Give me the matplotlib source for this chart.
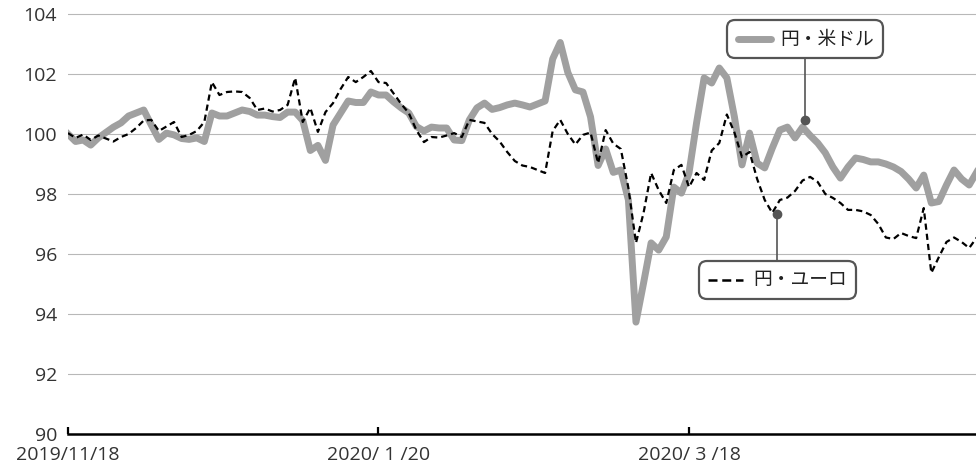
import matplotlib
matplotlib.use("Agg")
import matplotlib.pyplot as plt
from matplotlib.patches import FancyBboxPatch
from matplotlib.lines import Line2D
from matplotlib.transforms import IdentityTransform

plt.rcParams['font.family'] = ['Noto Sans CJK JP', 'DejaVu Sans']

# index values, 2019/11/18 = 100 (one point per business day)
usd = [100.0, 99.75, 99.8, 99.63, 99.87, 100.05, 100.23, 100.37, 100.6, 100.7,
       100.8, 100.3, 99.82, 100.03, 99.97, 99.85, 99.82, 99.87, 99.75, 100.7,
       100.6, 100.6, 100.7, 100.8, 100.75, 100.63, 100.63, 100.58, 100.55, 100.73,
       100.73, 100.45, 99.45, 99.62, 99.12, 100.3, 100.7, 101.1, 101.05, 101.05,
       101.4, 101.3, 101.3, 101.07, 100.87, 100.7, 100.25, 100.1, 100.23, 100.2,
       100.2, 99.8, 99.78, 100.47, 100.87, 101.03, 100.82, 100.88, 100.97, 101.03,
       100.97, 100.9, 101.0, 101.1, 102.5, 103.05, 102.05, 101.47, 101.4, 100.57,
       98.95, 99.5, 98.72, 98.8, 97.8, 93.73, 95.03, 96.37, 96.13, 96.57,
       98.23, 98.03, 98.7, 100.37, 101.87, 101.7, 102.2, 101.87, 100.57, 98.97,
       100.03, 99.03, 98.87, 99.53, 100.13, 100.23, 99.87, 100.23, 99.95, 99.7,
       99.37, 98.9, 98.53, 98.9, 99.2, 99.15, 99.07, 99.07, 99.0, 98.9,
       98.75, 98.5, 98.2, 98.63, 97.7, 97.75, 98.3, 98.8, 98.5, 98.3,
       98.73]

eur = [100.03, 99.87, 99.98, 99.8, 99.95, 99.85, 99.75, 99.9, 100.0, 100.2,
       100.45, 100.47, 100.1, 100.25, 100.4, 99.9, 99.97, 100.1, 100.4, 101.73,
       101.3, 101.4, 101.42, 101.4, 101.2, 100.8, 100.85, 100.75, 100.8, 100.97,
       101.87, 100.4, 100.87, 100.07, 100.73, 101.03, 101.5, 101.9, 101.73, 101.9,
       102.1, 101.73, 101.7, 101.35, 101.0, 100.7, 100.13, 99.73, 99.9, 99.88,
       99.95, 100.03, 99.9, 100.47, 100.42, 100.37, 100.0, 99.75, 99.4, 99.1,
       98.95, 98.9, 98.8, 98.7, 100.1, 100.47, 100.0, 99.65, 99.97, 100.05,
       99.03, 100.13, 99.68, 99.5, 98.2, 96.37, 97.37, 98.7, 98.13, 97.7,
       98.8, 98.97, 98.23, 98.7, 98.47, 99.45, 99.7, 100.65, 100.05, 99.23,
       99.4, 98.5, 97.8, 97.37, 97.8, 97.88, 98.1, 98.45, 98.57, 98.4,
       98.0, 97.87, 97.7, 97.47, 97.47, 97.42, 97.3, 97.0, 96.55, 96.5,
       96.7, 96.6, 96.53, 97.53, 95.37, 95.9, 96.4, 96.55, 96.4, 96.2,
       96.55]

tick_pos = [0, 41, 82]
tick_labels = ['2019/11/18', '2020/ 1 /20', '2020/ 3 /18']
y_ticks = [90, 92, 94, 96, 98, 100, 102, 104]

W, H = 976, 470
fig = plt.figure(figsize=(W / 100, H / 100), dpi=100)
ax = fig.add_axes([68 / W, 36 / H, 908 / W, 423 / H])

x = list(range(len(usd)))
ax.plot(x, usd, color='#a0a0a0', lw=5, zorder=3)
ax.plot(x, eur, color='black', lw=1.6, linestyle=(0, (2.8, 1.8)), zorder=4)

ax.set_xlim(0, 119.9)
ax.set_ylim(90, 104.1)
ax.set_yticks(y_ticks)
ax.set_xticks(tick_pos)
ax.set_xticklabels(tick_labels)
ax.yaxis.grid(True, color='#b8b8b8', lw=0.8)
ax.set_axisbelow(True)
for s in ['top', 'right', 'left']:
    ax.spines[s].set_visible(False)
ax.spines['bottom'].set_linewidth(1.8)
ax.spines['bottom'].set_color('black')
ax.tick_params(axis='y', length=0, pad=8, labelcolor='#333333')
ax.tick_params(axis='x', direction='in', length=5, width=1.6, pad=9,
               labelcolor='#333333')
for lab in ax.get_xticklabels() + ax.get_yticklabels():
    lab.set_fontfamily(['Open Sans', 'DejaVu Sans'])
    lab.set_fontsize(14)


# callout boxes, drawn in pixel space (top-left origin)
def P(px, py):
    return px, H - py


def add_box(x0, y0, x1, y1):
    bx, by = P(x0, y1)
    box = FancyBboxPatch((bx, by), x1 - x0, y1 - y0,
                         boxstyle='round,pad=0,rounding_size=8',
                         transform=IdentityTransform(), facecolor='white',
                         edgecolor='#555555', lw=1.6, zorder=10)
    fig.add_artist(box)


def add_line(xs, ys, **kw):
    pts = [P(a, b) for a, b in zip(xs, ys)]
    ln = Line2D([p[0] for p in pts], [p[1] for p in pts],
                transform=IdentityTransform(), **kw)
    fig.add_artist(ln)


# 円・米ドル
add_line([805, 805], [58, 120], color='#555555', lw=1.2, zorder=9)
add_line([805], [120], marker='o', ms=6, color='#555555', zorder=9)
add_box(727, 20, 883, 58)
add_line([738, 771], [39, 39], color='#a0a0a0', lw=5, solid_capstyle='round', zorder=11)
fig.text(780 / W, 1 - 39 / H, '円・米ドル', ha='left', va='center',
         fontsize=13.5, color='#222222', zorder=11)

# 円・ユーロ
add_line([777, 777], [214, 261], color='#555555', lw=1.2, zorder=9)
add_line([777], [214], marker='o', ms=6, color='#555555', zorder=9)
add_box(699, 261, 856, 299)
add_line([708, 743], [280, 280], color='black', lw=1.8,
         linestyle=(0, (3.6, 1.9)), zorder=11)
fig.text(753 / W, 1 - 280 / H, '円・ユーロ', ha='left', va='center',
         fontsize=13.5, color='#222222', zorder=11)

fig.savefig('out.png', dpi=100)
